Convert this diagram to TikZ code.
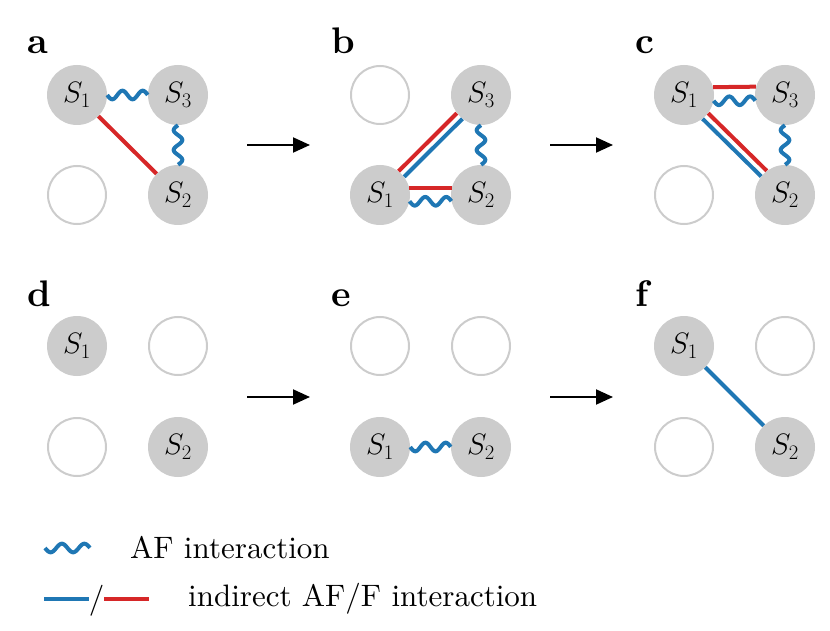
\RequirePackage{fix-cm}
\documentclass[tikz,border=0pt]{standalone}
\usepackage{fontspec}
\setmainfont{lmroman10-regular}[Extension=.otf, BoldFont=lmroman10-bold]
\usetikzlibrary{arrows.meta,calc}
\definecolor{sitegray}{HTML}{CCCCCC}
\definecolor{afblue}{HTML}{1F77B4}
\definecolor{fred}{HTML}{D62728}
\tikzset{
  site/.style={circle, fill=sitegray, minimum size=60pt, inner sep=0pt, font=\fontsize{29.5}{33}\selectfont},
  vacant/.style={circle, draw=sitegray, line width=2pt, minimum size=58pt, inner sep=0pt},
  plabel/.style={anchor=base west, inner sep=0pt, font=\fontsize{37}{42}\selectfont\bfseries},
  bond/.style={line width=4pt},
  afb/.style={bond, afblue},
  fb/.style={bond, fred},
  wavestyle/.style={afblue, line width=4pt},
  stepar/.style={line width=2pt, -{Triangle[length=17pt, width=15pt]}},
  legtext/.style={anchor=west, inner sep=0pt, font=\fontsize{31}{35}\selectfont},
}
% wavy AF line between two points, #1 = number of periods
\newcommand\afwave[3][2]{%
  \draw[wavestyle] let \p1=(#2), \p2=(#3),
     \n1={veclen(\x2-\x1,\y2-\y1)}, \n2={atan2(\y2-\y1,\x2-\x1)} in
     [shift={(\p1)}, rotate=\n2]
     plot[variable=\t, domain=0:1, samples=100, smooth] ({\t*\n1},{4.3*sin(\t*#1*360)});%
}
\begin{document}
\begin{tikzpicture}[x=1pt, y=-1pt]
\useasboundingbox (0,0) rectangle (830,631);
% ---------- panel a ----------
\node[plabel] (la) at (27,54) {a};
\node[site] (a1) at (77,95) {$S_1$};
\node[site] (a3) at (178,95) {$S_3$};
\node[vacant] (a0) at (77,195) {};
\node[site] (a2) at (178,195) {$S_2$};
\afwave{a1.east}{a3.west}
\afwave{a3.south}{a2.north}
\draw[fb] (a1) -- (a2);
% ---------- panel b ----------
\node[plabel] (lb) at (331,54) {b};
\node[vacant] (b0) at (380,95) {};
\node[site] (b3) at (481,95) {$S_3$};
\node[site] (b1) at (380,195) {$S_1$};
\node[site] (b2) at (481,195) {$S_2$};
\draw[fb] (b1.52.5) -- (b3.217.5);
\draw[afb] (b1.37.5) -- (b3.232.5);
\afwave{b3.south}{b2.north}
\draw[fb] (b1.13) -- (b2.167);
\afwave{b1.-12}{b2.192}
% ---------- panel c ----------
\node[plabel] (lc) at (635,54) {c};
\node[site] (c1) at (684,95) {$S_1$};
\node[site] (c3) at (785,95) {$S_3$};
\node[vacant] (c0) at (684,195) {};
\node[site] (c2) at (785,195) {$S_2$};
\draw[fb] (c1.15.5) -- (c3.164.5);
\afwave{c1.-11}{c3.191}
\afwave{c3.south}{c2.north}
\draw[fb] (c1.-37.5) -- (c2.127.5);
\draw[afb] (c1.-52.5) -- (c2.142.5);
% ---------- panel d ----------
\node[plabel] (ld) at (27,306) {d};
\node[site] (d1) at (77,346) {$S_1$};
\node[vacant] (d3) at (178,346) {};
\node[vacant] (d0) at (77,447) {};
\node[site] (d2) at (178,447) {$S_2$};
% ---------- panel e ----------
\node[plabel] (le) at (331,306) {e};
\node[vacant] (e0) at (380,346) {};
\node[vacant] (e3) at (481,346) {};
\node[site] (e1) at (380,447) {$S_1$};
\node[site] (e2) at (481,447) {$S_2$};
\afwave{e1.east}{e2.west}
% ---------- panel f ----------
\node[plabel] (lf) at (635,306) {f};
\node[site] (f1) at (684,346) {$S_1$};
\node[vacant] (f3) at (785,346) {};
\node[vacant] (f0) at (684,447) {};
\node[site] (f2) at (785,447) {$S_2$};
\draw[afb] (f1) -- (f2);
% ---------- arrows ----------
\coordinate (ar1s) at (247,145); \coordinate (ar1e) at (310,145);
\coordinate (ar2s) at (550,145); \coordinate (ar2e) at (613,145);
\coordinate (ar3s) at (247,397); \coordinate (ar3e) at (310,397);
\coordinate (ar4s) at (550,397); \coordinate (ar4e) at (613,397);
\draw[stepar] (ar1s) -- (ar1e);
\draw[stepar] (ar2s) -- (ar2e);
\draw[stepar] (ar3s) -- (ar3e);
\draw[stepar] (ar4s) -- (ar4e);
% ---------- legend ----------
\coordinate (lw1) at (45,548); \coordinate (lw2) at (90,548);
\afwave{lw1}{lw2}
\node[legtext] (lt1) at (130,548) {AF interaction};
\coordinate (lb1) at (44,599); \coordinate (lb2) at (89,599);
\coordinate (lr1) at (104,599); \coordinate (lr2) at (149,599);
\draw[afb] (lb1) -- (lb2);
\node[inner sep=0pt, font=\fontsize{31}{35}\selectfont] (slash) at (96.5,601) {/};
\draw[fb] (lr1) -- (lr2);
\node[legtext] (lt2) at (188,599) {indirect AF/F interaction};
\end{tikzpicture}
\end{document}
